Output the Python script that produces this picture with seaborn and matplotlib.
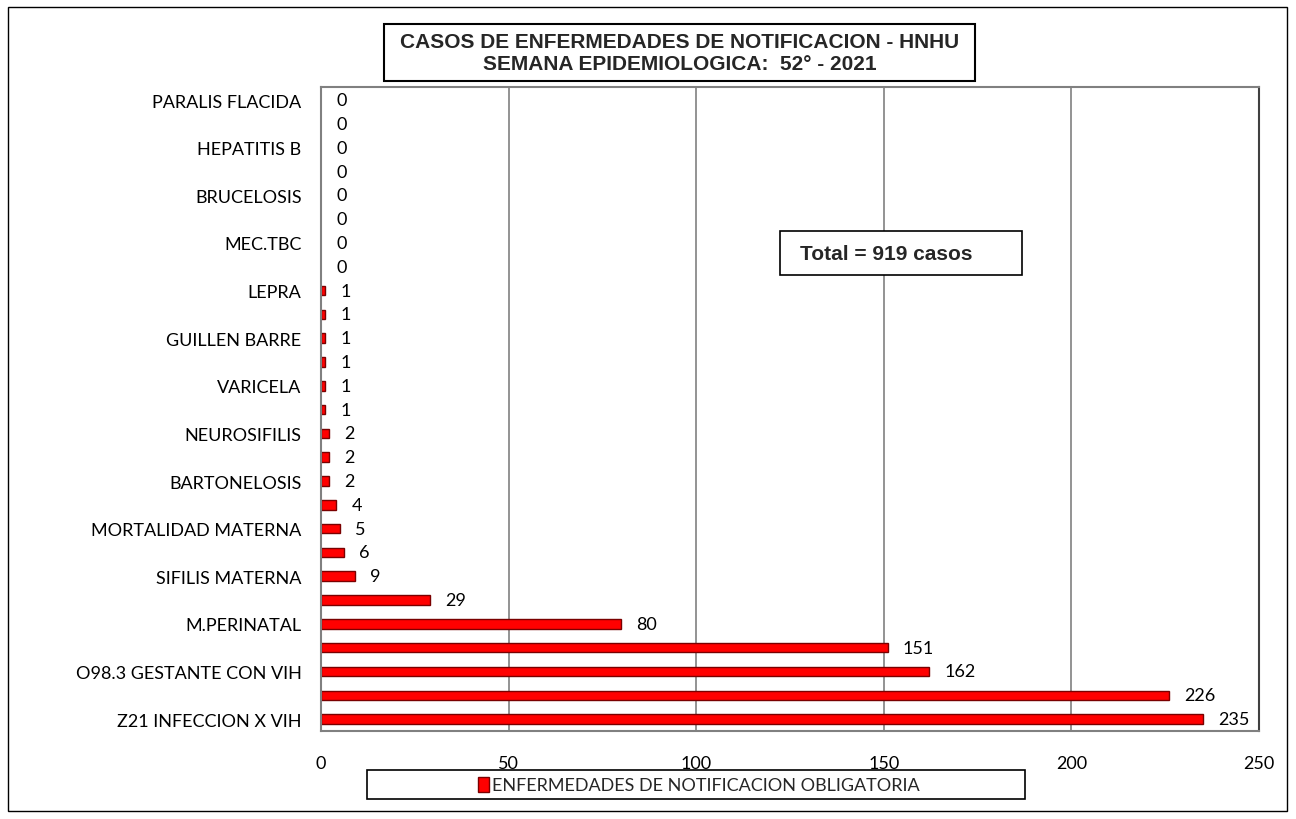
import matplotlib
matplotlib.use("Agg")
import matplotlib.pyplot as plt
import seaborn as sns
import pandas as pd
from matplotlib.patches import Rectangle, Patch

# ---- data (top to bottom) ----
labels = ["PARALIS FLACIDA", "", "HEPATITIS B", "", "BRUCELOSIS", "", "MEC.TBC", "",
          "LEPRA", "", "GUILLEN BARRE", "", "VARICELA", "", "NEUROSIFILIS", "",
          "BARTONELOSIS", "", "MORTALIDAD MATERNA", "", "SIFILIS MATERNA", "",
          "M.PERINATAL", "", "O98.3 GESTANTE CON VIH", "", "Z21 INFECCION X VIH"]
values = [0, 0, 0, 0, 0, 0, 0, 0, 1, 1, 1, 1, 1, 1, 2, 2, 2, 4, 5, 6, 9, 29,
          80, 151, 162, 226, 235]
x_ticks = [0, 50, 100, 150, 200, 250]
title_lines = ["CASOS DE ENFERMEDADES DE NOTIFICACION - HNHU",
               "SEMANA EPIDEMIOLOGICA:  52° - 2021"]
total_text = "Total = 919 casos"
series_name = "ENFERMEDADES DE NOTIFICACION OBLIGATORIA"

sns.set_theme(style="white")
plt.rcParams['font.family'] = ['Lato', 'DejaVu Sans']

W, H = 1296, 820
fig = plt.figure(figsize=(W / 100, H / 100), dpi=100)

def fx(px):
    return px / W

def fy(py):
    return 1 - py / H

ax = fig.add_axes([fx(321), fy(732), fx(1259) - fx(321), fy(88) - fy(732)])

df = pd.DataFrame({"row": [str(i) for i in range(len(values))], "value": values})
sns.barplot(data=df, x="value", y="row", orient="h", ax=ax, color="#ff0000",
            width=0.40, edgecolor="#7a0000", linewidth=1.0, saturation=1)
for p in ax.patches:
    if p.get_width() == 0:
        p.set_visible(False)

ax.set_xlim(0, 250)
ax.set_ylim(len(values) - 0.5, -0.55)
ax.set_xticks(x_ticks)
ax.set_xticklabels([str(t) for t in x_ticks], fontsize=13, color="black")
ax.set_yticks(range(len(values)))
ax.set_yticklabels(labels, fontsize=13, color="black")
ax.tick_params(axis="x", length=0, pad=17)
ax.tick_params(axis="y", length=0, pad=14)
ax.set_xlabel("")
ax.set_ylabel("")
ax.xaxis.grid(True, color="#808080", linewidth=1.2)
ax.yaxis.grid(False)
ax.set_axisbelow(True)
for s in ["left", "bottom", "top"]:
    ax.spines[s].set_color("#808080")
    ax.spines[s].set_linewidth(1.5)
ax.spines["right"].set_color("#404040")
ax.spines["right"].set_linewidth(1.5)

for i, v in enumerate(values):
    ax.annotate(str(v), xy=(v, i), xytext=(11, 0), textcoords="offset points",
                ha="left", va="center", fontsize=13, color="black")

# outer border
fig.add_artist(Rectangle((fx(8), fy(812)), fx(1287) - fx(8), fy(8) - fy(812),
                         transform=fig.transFigure, fill=False, edgecolor="black",
                         linewidth=1.0))

# title box
fig.add_artist(Rectangle((fx(384), fy(82)), fx(975) - fx(384), fy(25) - fy(82),
                         transform=fig.transFigure, facecolor="white",
                         edgecolor="black", linewidth=1.5, zorder=5))
fig.text(fx(680), fy(43), title_lines[0], ha="center", va="center", fontsize=15,
         fontweight="bold", family="Liberation Sans", zorder=6)
fig.text(fx(680), fy(65), title_lines[1], ha="center", va="center", fontsize=15,
         fontweight="bold", family="Liberation Sans", zorder=6)

# total box
fig.add_artist(Rectangle((fx(780), fy(276)), fx(1022) - fx(780), fy(232) - fy(276),
                         transform=fig.transFigure, facecolor="white",
                         edgecolor="black", linewidth=1.2, zorder=5))
fig.text(fx(800), fy(254), total_text, ha="left", va="center", fontsize=15,
         fontweight="bold", family="Liberation Sans", zorder=6)

# legend box
fig.add_artist(Rectangle((fx(367), fy(800)), fx(1025) - fx(367), fy(771) - fy(800),
                         transform=fig.transFigure, facecolor="white",
                         edgecolor="black", linewidth=1.2, zorder=5))
leg = fig.legend(handles=[Patch(facecolor="#ff0000", edgecolor="#7a0000")],
                 labels=[series_name], loc="center",
                 bbox_to_anchor=(fx(699), fy(786)), frameon=False, fontsize=13,
                 handlelength=0.6, handleheight=0.9, handletextpad=0.2)
leg.set_zorder(7)

fig.savefig("out.png", dpi=100)
